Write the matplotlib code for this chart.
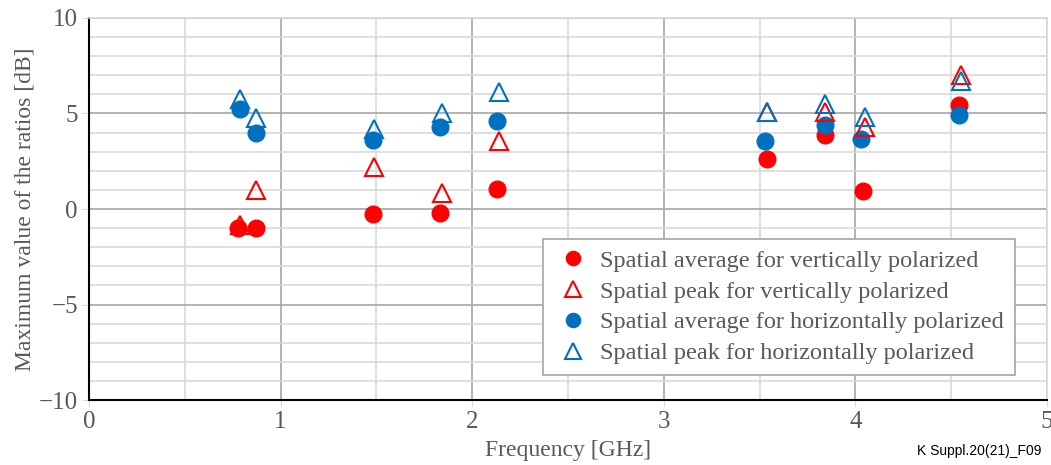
import numpy as np
import matplotlib
matplotlib.use('Agg')
import matplotlib.pyplot as plt
from matplotlib.ticker import MultipleLocator

# data
freq_avg_v = [0.78, 0.87, 1.48, 1.83, 2.13, 3.54, 3.84, 4.04, 4.54]
avg_v = [-1.0, -1.0, -0.25, -0.2, 1.05, 2.6, 3.85, 0.95, 5.45]
freq_peak_v = [0.79, 0.87, 1.49, 1.84, 2.14, 3.54, 3.84, 4.05, 4.55]
peak_v = [-0.85, 1.0, 2.2, 0.85, 3.55, 5.1, 5.1, 4.3, 7.0]
freq_avg_h = [0.79, 0.87, 1.48, 1.83, 2.13, 3.53, 3.84, 4.03, 4.54]
avg_h = [5.25, 4.0, 3.6, 4.3, 4.6, 3.55, 4.4, 3.65, 4.9]
freq_peak_h = [0.79, 0.87, 1.49, 1.84, 2.14, 3.54, 3.84, 4.05, 4.55]
peak_h = [5.75, 4.75, 4.2, 5.0, 6.1, 5.1, 5.5, 4.8, 6.7]

labels = ['Spatial average for vertically polarized',
          'Spatial peak for vertically polarized',
          'Spatial average for horizontally polarized',
          'Spatial peak for horizontally polarized']

red = '#ff0000'
blue = '#0070c0'
grey_text = '#595959'

plt.rcParams['font.family'] = ['Liberation Serif', 'DejaVu Serif']

fig = plt.figure(figsize=[10.51, 4.65], dpi=100)
ax = fig.add_axes([89 / 1051, 1 - 400 / 465, (1047 - 89) / 1051, (400 - 18) / 465])

ax.plot(freq_avg_v, avg_v, 'o', color=red, ms=12, label=labels[0], zorder=3)
ax.plot(freq_peak_v, peak_v, '^', mfc='none', mec=red, mew=1.5, ms=13, label=labels[1], zorder=4)
ax.plot(freq_avg_h, avg_h, 'o', color=blue, ms=12, label=labels[2], zorder=3)
ax.plot(freq_peak_h, peak_h, '^', mfc='none', mec=blue, mew=1.5, ms=13, label=labels[3], zorder=4)

ax.set_xlim(0, 5)
ax.set_ylim(-10, 10)
ax.xaxis.set_major_locator(MultipleLocator(1))
ax.xaxis.set_minor_locator(MultipleLocator(0.5))
ax.yaxis.set_major_locator(MultipleLocator(5))
ax.yaxis.set_minor_locator(MultipleLocator(1))
ax.grid(which='major', color='#a6a6a6', lw=1.2, zorder=0)
ax.grid(which='minor', color='#d9d9d9', lw=1.2, zorder=0)
ax.set_axisbelow(True)

ax.set_yticks([10, 5, 0, -5, -10])
ax.set_yticklabels(['10', '5', '0', '\u22125', '\u221210'])
ax.tick_params(which='major', length=5, color='#d9d9d9', labelsize=18, labelcolor=grey_text, pad=3)
ax.tick_params(which='minor', length=0)

for side in ['left', 'bottom']:
    ax.spines[side].set_color('black')
    ax.spines[side].set_linewidth(1.5)
for side in ['top', 'right']:
    ax.spines[side].set_color('#d9d9d9')
    ax.spines[side].set_linewidth(1.2)

ax.set_xlabel('Frequency [GHz]', fontsize=17, color=grey_text, labelpad=5)
ax.set_ylabel('Maximum value of the ratios [dB]', fontsize=17, color=grey_text, labelpad=2)

leg = ax.legend(loc='lower left', bbox_to_anchor=(543 / 1051, 1 - 375 / 465),
                bbox_transform=fig.transFigure, borderaxespad=0, fontsize=17.5, frameon=True,
                fancybox=False, edgecolor='#a6a6a6', framealpha=1, handletextpad=0.3,
                labelspacing=0.36, borderpad=0.45, markerscale=0.85, handlelength=1.6)
leg.get_frame().set_linewidth(1.2)
for t in leg.get_texts():
    t.set_color(grey_text)

fig.text(1041 / 1051, 1 - 455 / 465, 'K Suppl.20(21)_F09', family='Liberation Sans',
         fontsize=10, ha='right', va='baseline', color='black')

fig.savefig('out.png', dpi=100)
